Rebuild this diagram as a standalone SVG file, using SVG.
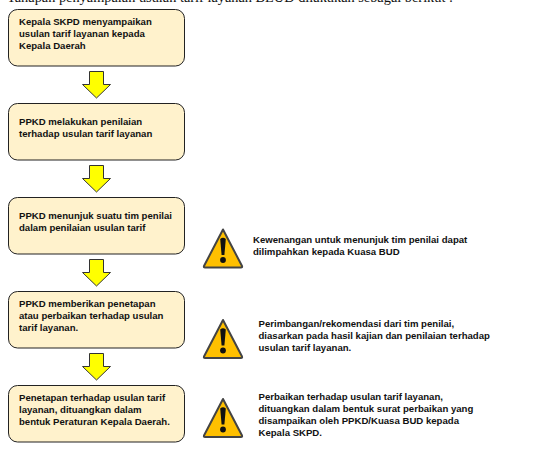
<svg xmlns="http://www.w3.org/2000/svg" xmlns:xlink="http://www.w3.org/1999/xlink" width="539" height="465" viewBox="0 0 539 465">
<style>
.box{fill:#fff2cc;stroke:#222;stroke-width:1}
.t{font-family:"Liberation Sans",Arial,sans-serif;font-size:9.6px;font-weight:700;fill:#111}
.arrow{fill:#ffff00;stroke:#333;stroke-width:1}
.h{font-family:"Liberation Serif","Times New Roman",serif;font-size:14.5px;fill:#111}
.tri{fill:#ffc000;stroke:#444;stroke-width:2;stroke-linejoin:round}
.mark{fill:#111}
</style>
<defs>
<g id="warn">
<path class="tri" d="M0 0L19 36.500Q19.500 38 18 38H-18Q-19.500 38 -19 36.500Z"/>
<path class="mark" d="M-2.800 9.500Q0 7 2.800 9.500L1.400 25.500H-1.400Z"/>
<circle class="mark" cx="0" cy="30.500" r="2.900"/>
</g>
<path id="arr" class="arrow" d="M-7 0H7V13H14L0 26.500L-14 13H-7Z"/>
</defs>
<rect width="539" height="465" fill="#fff"/>
<text class="h" x="7" y="2" textLength="446" lengthAdjust="spacingAndGlyphs">Tahapan penyampaian usulan tarif layanan BLUD dilakukan sebagai berikut :</text>
<g id="connectors">
<use xlink:href="#arr" href="#arr" x="96.500" y="71.500"/>
<use xlink:href="#arr" href="#arr" x="96.500" y="165.500"/>
<use xlink:href="#arr" href="#arr" x="96.500" y="259.500"/>
<use xlink:href="#arr" href="#arr" x="96.500" y="353.500"/>
</g>
<g id="node1"><rect class="box" x="8.500" y="9.500" width="176" height="56.500" rx="9"/>
<text class="t" x="19" y="25">Kepala SKPD menyampaikan</text><text class="t" x="19" y="37">usulan tarif layanan kepada</text><text class="t" x="19" y="48.500">Kepala Daerah</text></g>
<g id="node2"><rect class="box" x="8.500" y="103.500" width="176" height="56.500" rx="9"/>
<text class="t" x="19" y="125">PPKD melakukan penilaian</text><text class="t" x="19" y="136.500">terhadap usulan tarif layanan</text></g>
<g id="node3"><rect class="box" x="8.500" y="197.500" width="176" height="56.500" rx="9"/>
<text class="t" x="19" y="219">PPKD menunjuk suatu tim penilai</text><text class="t" x="19" y="230.500">dalam penilaian usulan tarif</text></g>
<g id="node4"><rect class="box" x="8.500" y="291.500" width="176" height="56.500" rx="9"/>
<text class="t" x="19" y="307">PPKD memberikan penetapan</text><text class="t" x="19" y="319">atau perbaikan terhadap usulan</text><text class="t" x="19" y="330.500">tarif layanan.</text></g>
<g id="node5"><rect class="box" x="8.500" y="385.500" width="176" height="56.500" rx="9"/>
<text class="t" x="19" y="401">Penetapan terhadap usulan tarif</text><text class="t" x="19" y="413">layanan, dituangkan dalam</text><text class="t" x="19" y="425">bentuk Peraturan Kepala Daerah.</text></g>
<g id="warn1"><use xlink:href="#warn" href="#warn" x="223" y="229.500"/>
<text class="t" x="253" y="243">Kewenangan untuk menunjuk tim penilai dapat</text><text class="t" x="253" y="255">dilimpahkan kepada Kuasa BUD</text></g>
<g id="warn2"><use xlink:href="#warn" href="#warn" x="223" y="320"/>
<text class="t" x="258.500" y="327">Perimbangan/rekomendasi dari tim penilai,</text><text class="t" x="258.500" y="339">diasarkan pada hasil kajian dan penilaian terhadap</text><text class="t" x="258.500" y="351">usulan tarif layanan.</text></g>
<g id="warn3"><use xlink:href="#warn" href="#warn" x="223" y="399"/>
<text class="t" x="258.500" y="400">Perbaikan terhadap usulan tarif layanan,</text><text class="t" x="258.500" y="412">dituangkan dalam bentuk surat perbaikan yang</text><text class="t" x="258.500" y="424">disampaikan oleh PPKD/Kuasa BUD kepada</text><text class="t" x="258.500" y="436">Kepala SKPD.</text></g>
</svg>
